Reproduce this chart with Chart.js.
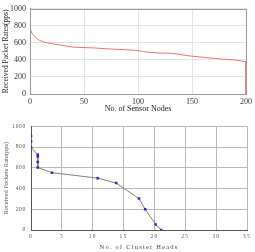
<!DOCTYPE html>
<html><head><meta charset="utf-8">
<script src="https://cdn.jsdelivr.net/npm/chart.js@4/dist/chart.umd.min.js"></script>
<style>
html,body{margin:0;padding:0;background:#fff;width:255px;height:252px;overflow:hidden}
#w1{position:absolute;left:0;top:0;width:255px;height:118px}
#w2{position:absolute;left:0;top:118px;width:255px;height:134px}
</style></head><body>
<div id="w1"><canvas id="c1"></canvas></div>
<div id="w2"><canvas id="c2"></canvas></div>
<script>
// Top chart: received packet rate vs number of sensor nodes
const nodeX = [0,1,2,3,5,7,9,12,15,20,25,30,35,40,50,60,70,80,90,95,100,105,110,120,130,135,140,147,157,165,172,180,188,195,200,200];
const nodeRate = [760,740,705,695,665,645,628,615,603,592,580,570,560,550,545,540,532,524,518,515,508,498,490,481,477,472,462,448,435,425,416,408,401,390,378,0];
const nodeTicks = [0,50,100,150,200];
const rateTicks = [0,200,400,600,800,1000];

// Bottom chart: received packets rate vs number of cluster heads
const headX = [0,0,0,1.1,1.1,1.1,1.1,3.4,10.8,13.8,17.5,18.5,20.2,21.1];
const headRate = [906,853,800,725,709,656,603,553,500,453,303,200,53,0];
const headTicks = [0,5,10,15,20,25,30,35];

const boxPlugin = {
  id:'box',
  afterDraw(chart, args, opts){
    if(!opts.color) return;
    const a = chart.chartArea, ctx = chart.ctx;
    ctx.save(); ctx.strokeStyle = opts.color; ctx.lineWidth = 1;
    ctx.strokeRect(Math.round(a.left)+0.5, Math.round(a.top)+0.5, Math.round(a.right-a.left), Math.round(a.bottom-a.top));
    ctx.restore();
  }
};
function spaced(scale, labels, title, sp){
  if(scale._sp) return; scale._sp = true;
  const wrap = (name)=>{ const o = scale[name]; scale[name] = function(...a){ const ctx=this.ctx; ctx.save(); try{ctx.letterSpacing=sp;}catch(e){} o.apply(this,a); ctx.restore(); }; };
  if(labels) wrap('drawLabels');
  if(title) wrap('drawTitle');
}
const spacingPlugin = {
  id:'spacing',
  beforeDraw(chart, args, opts){
    if(!opts.on) return;
    spaced(chart.scales.x, true, true, '1.2px');
    spaced(chart.scales.y, true, false, '0.7px');
  }
};

const serif = "'Liberation Serif','Times New Roman',serif";
const plain = v => String(v);

new Chart(document.getElementById('c1'), {
  type:'line',
  data:{datasets:[{
    data: nodeX.map((x,i)=>({x, y: nodeRate[i]})),
    borderColor:'#f07070', borderWidth:1, pointRadius:0, tension:0, fill:false
  }]},
  options:{
    responsive:true, maintainAspectRatio:false, animation:false,
    layout:{padding:{left:0,right:8,top:7,bottom:0}},
    plugins:{legend:{display:false}, tooltip:{enabled:false}, box:{color:'#9a9a9a'}},
    scales:{
      x:{type:'linear', min:0, max:200,
        afterBuildTicks(s){ s.ticks = nodeTicks.map(v=>({value:v})); },
        afterFit(s){ s.height = 24; },
        grid:{color:'#e4e4e4', drawTicks:false}, border:{color:'#9a9a9a'},
        ticks:{padding:3, font:{family:serif,size:8}, color:'#333', maxRotation:0, callback:plain},
        title:{display:true, text:'No. of Sensor Nodes', font:{family:serif,size:8}, color:'#222', padding:{top:0,bottom:4}}
      },
      y:{min:0, max:1000,
        afterBuildTicks(s){ s.ticks = rateTicks.map(v=>({value:v})); },
        afterFit(s){ s.width = 30; },
        grid:{color:'#e4e4e4', drawTicks:false}, border:{color:'#9a9a9a'},
        ticks:{padding:4, font:{family:serif,size:8}, color:'#333', callback:plain},
        title:{display:true, text:'Received Packet Rates(pps)', font:{family:serif,size:7.5}, color:'#222', padding:{top:2,bottom:0}}
      }
    }
  },
  plugins:[boxPlugin]
});

new Chart(document.getElementById('c2'), {
  type:'line',
  data:{datasets:[{
    data: headX.map((x,i)=>({x, y: headRate[i]})),
    borderColor:'#808080', borderWidth:1, tension:0, fill:false,
    pointStyle:'rect', pointRadius:1.8, pointBackgroundColor:'#2626d8', pointBorderColor:'#2626d8', pointBorderWidth:0
  }]},
  options:{
    responsive:true, maintainAspectRatio:false, animation:false,
    layout:{padding:{left:0,right:8,top:5,bottom:0}},
    plugins:{legend:{display:false}, tooltip:{enabled:false}, spacing:{on:true}},
    scales:{
      x:{type:'linear', min:0, max:35,
        afterBuildTicks(s){ s.ticks = headTicks.map(v=>({value:v})); },
        afterFit(s){ s.height = 22; },
        grid:{color:'#b8b8b8', drawTicks:false}, border:{color:'#555'},
        ticks:{padding:3, font:{family:serif,size:5.5}, color:'#555', maxRotation:0, callback:plain},
        title:{display:true, text:'No. of Cluster Heads', font:{family:serif,size:6.5}, color:'#444', padding:{top:0,bottom:1}}
      },
      y:{min:0, max:1000,
        afterBuildTicks(s){ s.ticks = rateTicks.map(v=>({value:v})); },
        afterFit(s){ s.width = 31; },
        grid:{color:'#b8b8b8', drawTicks:false}, border:{color:'#555'},
        ticks:{padding:5, font:{family:serif,size:5.5}, color:'#555', callback:plain},
        title:{display:true, text:'Received Packets Rate(pps)', font:{family:serif,size:6.5}, color:'#555', padding:{top:2.5,bottom:0}}
      }
    }
  },
  plugins:[spacingPlugin]
});
</script>
</body></html>
